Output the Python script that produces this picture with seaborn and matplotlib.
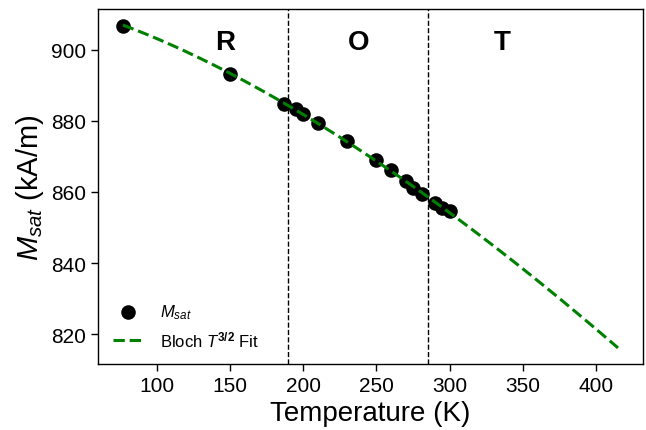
import numpy as np
import matplotlib
matplotlib.use("Agg")
import matplotlib.pyplot as plt
import seaborn as sns
import pandas as pd

# measured saturation magnetisation
temps = [77, 150, 187, 195, 200, 210, 230, 250, 260, 270, 275, 281, 290, 295, 300]
msat = [906.8, 893.2, 884.7, 883.3, 882.0, 879.5, 874.3, 869.0, 866.2, 863.0, 861.2, 859.3, 857.0, 855.6, 854.6]

# phase boundaries and labels
boundaries = [190, 285]
phase_labels = ["R", "O", "T"]
phase_x = [147, 238, 336]

fit_range = (77, 415)

sns.set_theme(style="ticks")
plt.rcParams['font.family'] = ['Liberation Sans', 'DejaVu Sans']
plt.rcParams['mathtext.fontset'] = 'custom'
plt.rcParams['mathtext.rm'] = 'Liberation Sans'
plt.rcParams['mathtext.it'] = 'Liberation Sans:italic'
plt.rcParams['mathtext.bf'] = 'Liberation Sans:bold'
plt.rcParams['text.color'] = 'black'
plt.rcParams['axes.labelcolor'] = 'black'

df = pd.DataFrame({"T": temps, "M": msat})

# Bloch T^3/2 fit: M = M0 (1 - B T^1.5), linear in T^1.5
A = np.vstack([np.ones(len(df)), df["T"].values ** 1.5]).T
coef, *_ = np.linalg.lstsq(A, df["M"].values, rcond=None)
t_fit = np.linspace(fit_range[0], fit_range[1], 200)
fit_df = pd.DataFrame({"T": t_fit, "M": coef[0] + coef[1] * t_fit ** 1.5})

fig = plt.figure(figsize=(6.46, 4.31), dpi=100)
ax = fig.add_axes([0.152, 0.153, 0.843, 0.824])

sns.scatterplot(data=df, x="T", y="M", ax=ax, color="black", s=110,
                edgecolor="black", linewidth=0, label=r"$M_{sat}$", zorder=3)
sns.lineplot(data=fit_df, x="T", y="M", ax=ax, color="green", lw=2.2,
             linestyle="--", label=r"Bloch $T^{\mathbf{3/2}}$ Fit", zorder=4)

for b in boundaries:
    ax.axvline(b, color="black", linestyle="--", lw=1)

for lab, xp in zip(phase_labels, phase_x):
    ax.text(xp, 900.3, lab, fontsize=20, fontweight="bold", ha="center", va="baseline")

ax.set_xlabel("Temperature (K)", fontsize=20)
ax.set_ylabel(r"$M_{sat}$ (kA/m)", fontsize=21)
ax.tick_params(labelsize=15, length=5, width=1, colors="black")
for s in ax.spines.values():
    s.set_color("black")
    s.set_linewidth(1)

ax.legend(loc="lower left", frameon=False, fontsize=12, markerscale=1.0,
          handlelength=1.8, handletextpad=1.0, borderaxespad=0.5)

fig.savefig("out.png", dpi=100)
